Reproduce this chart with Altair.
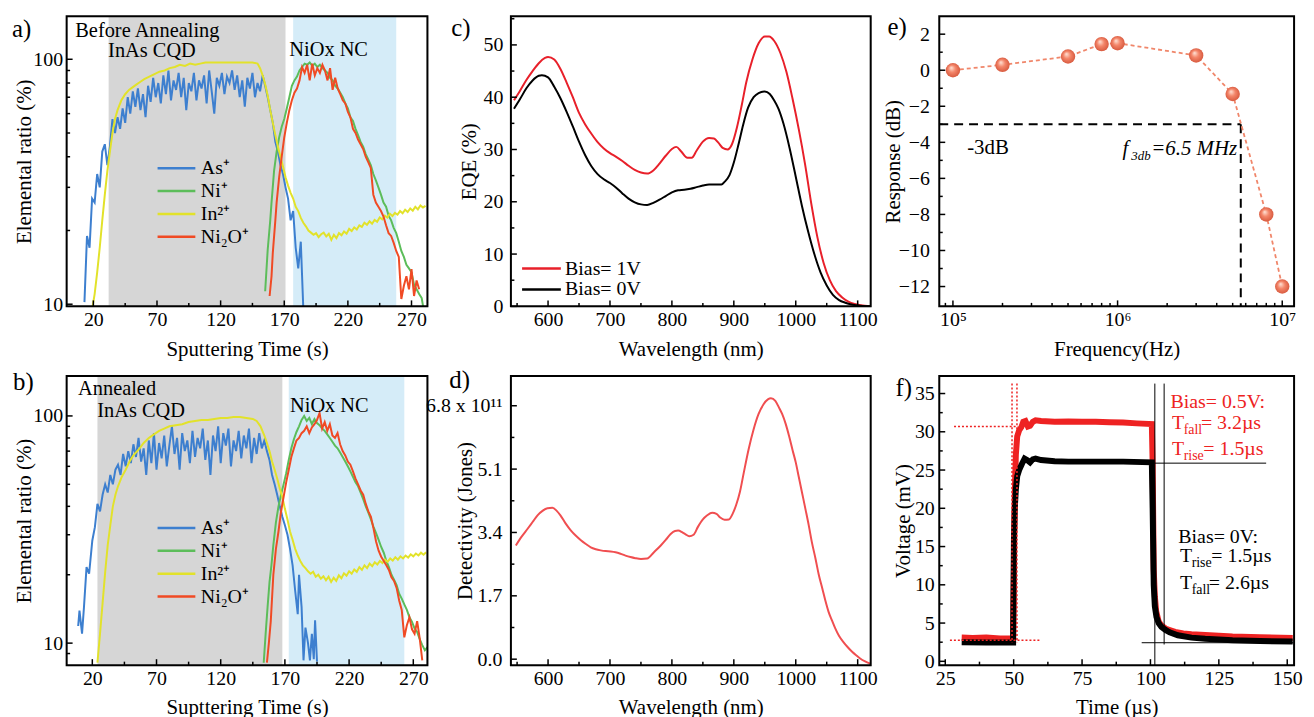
import altair as alt
import pandas as pd

FONT = "Liberation Serif"
FS = 20   # tick labels
FT = 21   # axis titles

# ---------------- (a) before annealing ----------------
A_AS = [(13,10.2),(15,19),(17,17),(19,27),(21,26),(23,34),(25,30),(27,42),(29,45),(31,37),(33,44),(35,57),(37,50),(39,58),(41,52),(43,63),(45,55),(47,70),(49,60),(51,74),(53,64),(55,76),(57,62),(59,72),(61,58),(63,78),(65,67),(67,84),(69,70),(71,80),(73,66),(75,86),(77,72),(79,90),(81,68),(83,82),(85,75),(87,88),(89,70),(91,84),(93,62),(95,80),(97,74),(99,88),(101,68),(103,82),(105,76),(107,86),(109,66),(111,90),(113,74),(115,60),(117,84),(119,78),(121,88),(123,72),(125,85),(127,80),(129,90),(131,75),(133,86),(135,70),(137,82),(139,64),(141,84),(143,76),(145,88),(147,70),(149,80),(151,74),(153,86),(155,78),(157,70),(159,62),(161,55),(163,46),(165,42),(167,37),(169,34),(171,30),(173,27),(175,22),(177,24),(179,17),(181,14),(183,18),(185,9.5)]
A_IN = [(19,9.5),(21,11),(23,13.5),(25,17),(27,22),(29,28),(31,35),(33,42),(35,50),(37,57),(39,62),(42,68),(45,72),(48,75),(51,77),(54,79),(57,81),(60,83),(64,85),(68,87),(72,89),(76,90),(80,92),(84,93),(88,95),(92,94),(96,96),(100,95),(104,96),(108,97),(112,97),(116,97),(120,97),(125,97),(130,97),(135,97),(140,97),(145,97),(149,96),(151,92),(153,86),(155,79),(157,71),(159,62),(161,55),(163,49),(165,44),(167,40),(169,36.5),(171,33),(173,30.5),(175,28.5),(177,27),(179,25),(181,24),(183,22.5),(185,21.5),(187,20.8),(189,20),(191,19.6),(193,19.2),(195,19.5),(197,18.8),(199,19.3),(201,19.6),(203,18.9),(205,19.4),(207,18.3),(209,19.2),(211,18.6),(213,19.5),(215,19.1),(217,19.8),(219,19.4),(221,20.3),(223,19.9),(225,20.6),(227,20.2),(229,21),(231,20.7),(233,21.5),(235,21.1),(237,21.8),(239,21.3),(241,22.1),(243,21.7),(245,22.6),(247,22.2),(249,23),(251,22.6),(253,23.4),(255,22.9),(257,23.6),(259,23.2),(261,24),(263,23.5),(265,24.3),(267,23.8),(269,24.6),(271,24.1),(273,25),(275,24.4),(277,25.3),(279,24.8),(281,25.2)]
A_NI = [(155,11.3),(157,16.7),(159,22),(160,26),(162,35),(164,42),(166,48),(168,53),(170,57),(172,63),(174,70),(176,78),(178,82),(180,85),(182,90),(184,93),(186,96),(188,95),(190,97),(192,94),(194,96),(196,93),(198,95),(200,92),(202,90),(204,88),(206,84),(208,82),(210,78),(212,76),(214,73),(216,70),(218,66),(220,63),(222,58),(224,56),(226,52),(228,49),(230,46),(232,44),(234,41),(236,39),(238,37),(240,34),(242,32),(244,30),(246,28),(248,26),(250,25),(252,23),(254,22),(256,20.5),(258,19.5),(260,18),(262,16.5),(264,15.6),(266,14.5),(268,14),(270,13.5),(272,12),(274,11.5),(276,11),(278,10.6),(280,9.2),(282,9.5)]
A_NIO = [(158.5,10.8),(160,13),(161,16.2),(163,22),(164,26),(166,33),(168,40),(170,48),(172,55),(174,62),(176,68),(178,73),(180,76),(182,82),(184,93),(186,88),(188,95),(190,82),(192,96),(194,86),(196,92),(198,88),(200,95),(202,90),(204,82),(206,92),(208,75),(210,84),(212,76),(214,72),(216,68),(218,66),(220,61),(222,58),(224,52),(226,50),(228,47),(230,45),(232,43),(234,40),(236,38),(238,36),(240,28),(242,26),(244,25),(246,24),(248,22.8),(250,21),(252,19.5),(254,19),(256,17.8),(258,16.5),(260,15.6),(262,10.5),(264,11.9),(266,13),(268,11.5),(270,13.9),(272,10.8),(274,12.5),(276,11.5)]
A_GREY = (32, 171)
A_BLUE = (177, 258)
A_NOTES = [(5.8, 131, "Before Annealing"), (31.6, 108, "InAs CQD"), (174, 109, "NiOx NC")]

# ---------------- (b) annealed ----------------
B_AS = [(9,11.9),(10,13.9),(12,11),(13.5,14.4),(15.5,21.6),(17.5,20.2),(20,28.3),(22,32.4),(24,41),(26,38),(28,45),(30,50),(32,46),(34,55),(36,50),(38,58),(40,61),(42,55),(44,68),(46,60),(48,70),(50,62),(52,75),(54,66),(56,80),(58,63),(60,72),(62,55),(64,78),(66,62),(68,84),(70,58),(72,76),(74,65),(76,82),(78,60),(80,74),(82,90),(84,68),(86,80),(88,58),(90,84),(92,70),(94,78),(96,62),(98,86),(100,66),(102,80),(104,72),(106,88),(108,64),(110,78),(112,55),(114,82),(116,70),(118,90),(120,62),(122,84),(124,74),(126,88),(128,60),(130,78),(132,70),(134,86),(136,65),(138,82),(140,72),(142,88),(144,62),(146,80),(148,68),(150,84),(152,72),(154,78),(156,70),(158,64),(160,55),(162,50),(164,45),(166,40),(168,36),(170,33),(172,30),(174,26),(176,22),(178,17),(180,13.4),(181,20),(183,14.4),(184.5,8.4),(186,11.7),(188,10),(189.5,8.4),(191,11),(192.5,8.5),(193.5,12.6),(195,8.3)]
B_IN = [(24,8.2),(26,11),(28,15),(30,20.5),(32,27),(34,33),(36,40),(38,45),(40,49),(43,54),(46,58),(49,63),(52,67),(56,71),(60,76),(64,80),(68,83),(72,86),(76,88),(80,90),(85,91),(90,92),(95,94),(100,95),(105,96),(110,96),(115,97),(120,98),(125,98),(130,99),(135,99),(140,98),(145,97),(148,95),(151,90),(154,82),(156,76),(158,70),(160,63),(162,58),(164,53),(166,48),(168,44),(170,39),(172,35),(174,31),(176,28.5),(178,26),(180,24.3),(182,23),(184,22),(186,21.4),(188,20.7),(190,20.2),(192,20.6),(194,19.6),(196,20),(198,19.2),(200,19.7),(202,18.9),(204,19.6),(206,18.6),(208,19.4),(210,18.8),(212,19.9),(214,19.3),(216,20.3),(218,19.8),(220,20.7),(222,20.2),(224,21.1),(226,20.6),(228,21.6),(230,21),(232,22),(234,21.4),(236,22.4),(238,21.8),(240,22.7),(242,22.2),(244,23),(246,22.5),(248,23.3),(250,22.8),(252,23.6),(254,23.1),(256,23.9),(258,23.3),(260,24.1),(262,23.6),(264,24.3),(266,23.8),(268,24.6),(270,24.1),(272,24.8),(274,24.3),(276,25),(278,24.5),(280,25.1)]
B_NI = [(153.5,8.2),(155,11),(156.5,14.4),(158,18.5),(159.5,22),(161,27),(163,34),(165,40),(167,45),(169,50),(171,56),(173,64),(175,72),(177,79),(179,85),(181,90),(183,96),(185,100),(187,95),(189,98),(191,92),(193,97),(195,93),(197,91),(199,88),(201,86),(203,83),(205,80),(207,77),(209,74),(211,72),(213,69),(215,66),(217,63),(219,60),(221,57),(223,54),(225,51),(227,49),(229,46),(231,43),(233,40),(235,37.5),(237,35),(239,32.5),(241,30.5),(243,28.5),(245,26.5),(247,25),(249,23),(251,21.6),(253,20),(255,19),(257,18),(259,16.5),(261,15.7),(263,14.8),(265,14),(267,13),(269,12.4),(271,11.6),(273,11.2),(275,10.4),(277,9.8),(279,9.3),(281,9.6)]
B_NIO = [(156,8.2),(157.5,10),(159,12.5),(161,20),(163,26),(165,31),(167,38),(169,44),(171,51),(173,58),(175,66),(177,72),(179,78),(181,80),(183,84),(185,86),(187,90),(189,84),(191,89),(193,92),(195,96),(197,103),(199,88),(201,94),(203,86),(205,92),(207,82),(209,80),(211,84),(213,75),(215,70),(217,67),(219,63),(221,61),(223,57),(225,53),(227,50),(229,47),(231,45),(233,41),(235,38),(237,36),(239,32),(241,28),(243,25.5),(245,24),(247,23),(249,22),(251,21),(253,19.5),(255,18.8),(257,17.5),(259,15.4),(261,14),(263,10.6),(265,12),(267,13),(269,11.5),(271,11),(273,12.5),(275,10.5),(277,8.4)]
B_GREY = (24, 168)
B_BLUE = (173, 263)
B_NOTES = [(8.9, 131, "Annealed"), (23.9, 105, "InAs CQD"), (174, 111, "NiOx NC")]

ION_NAMES = ["As⁺", "Ni⁺", "In²⁺", "Ni₂O⁺"]
ION_COLORS = ["#3d7fcf", "#5cbd5a", "#e2e22a", "#f04a24"]

# ---------------- (c) EQE ----------------
C_WL1 = [545,555,565,575,585,595,600,610,620,630,640,650,660,670,680,690,700,710,720,730,740,750,760,770,780,790,800,807,815,825,832,840,850,860,868,875,882,890,897,905,913,920,930,940,950,957,965,975,985,995,1005,1015,1025,1035,1045,1055,1065,1075,1085,1095,1105,1120]
C_EQE1 = [39.4,41.3,43.3,45,46.5,47.5,47.7,47.2,45.4,42.8,40,37,34.8,33,31.4,30.2,29.3,28.6,27.8,26.9,26.1,25.6,25.4,26,27.3,28.8,30.1,30.5,29.6,28.4,28.4,29.8,31.5,32.2,32.1,31.3,30.3,30,31,34.2,38.6,42.8,47.2,50.3,51.6,51.6,50.8,48.5,44.8,39.6,33.8,27.2,19.7,13.2,8.3,5.0,2.9,1.7,0.9,0.45,0.2,0.0]
C_WL0 = [545,555,565,575,585,590,600,610,620,630,640,650,660,670,680,690,700,710,720,730,740,750,760,770,780,790,800,810,820,830,840,850,860,870,880,885,893,900,908,915,923,932,940,950,958,965,972,980,990,1000,1010,1020,1030,1040,1050,1060,1070,1080,1090,1100,1120]
C_EQE0 = [37.8,39.7,41.7,43.2,44.1,44.2,43.8,42,39.8,37.2,34.4,31.5,28.9,26.8,25.3,24.3,23.6,22.7,21.6,20.6,19.9,19.5,19.4,19.8,20.4,21.1,21.8,22.2,22.3,22.5,22.8,23.1,23.3,23.3,23.3,23.8,25.1,27.5,31.2,34.7,38,40,40.8,41.1,40.6,39.4,37.8,35,30.3,24.8,19.2,14.3,10,6.5,4,2.2,1.2,0.7,0.35,0.15,0.0]
C_SERIES = ["Bias= 1V", "Bias= 0V"]

# ---------------- (d) detectivity ----------------
D_WL = [548,557,567,575,583,591,599,607,614,620,628,637,645,653,661,669,677,685,693,701,709,717,725,733,741,750,760,771,782,790,798,805,810,817,822,828,835,842,850,857,865,872,878,885,892,898,904,910,916,924,932,940,948,955,960,967,973,978,984,989,995,1000,1005,1010,1016,1021,1026,1032,1037,1043,1048,1053,1059,1064,1070,1077,1084,1091,1098,1104,1112,1120]
D_DET = [3.05,3.28,3.5,3.68,3.86,3.98,4.05,4.06,3.98,3.86,3.65,3.45,3.31,3.19,3.09,3.0,2.95,2.92,2.9,2.89,2.87,2.83,2.78,2.74,2.71,2.69,2.7,2.87,3.05,3.2,3.36,3.44,3.45,3.4,3.35,3.3,3.34,3.55,3.75,3.86,3.93,3.9,3.8,3.74,3.75,3.9,4.15,4.5,5.0,5.64,6.17,6.58,6.84,6.97,7.0,6.93,6.75,6.58,6.3,6.0,5.6,5.28,4.88,4.48,4.0,3.59,3.14,2.69,2.28,1.89,1.56,1.27,1.02,0.82,0.62,0.46,0.32,0.2,0.1,0.02,-0.06,-0.12]

# ---------------- (e) frequency response ----------------
E_FREQ = [1e5, 2e5, 5e5, 8e5, 1e6, 3e6, 5e6, 8e6, 1e7]
E_RESP = [0.0, 0.3, 0.76, 1.45, 1.5, 0.82, -1.32, -8.0, -12.0]
E_F3DB_AXIS = 5.6e6
E_XDOM = [82600, 1.18e7]
E_YDOM = [-13.1, 3.0]

# ---------------- (f) transient response ----------------
F_RED = [(31,3.1),(35,3.05),(40,3.1),(45,3.0),(49.8,3.0),(50.1,12),(50.4,22),(50.8,27),(51.3,29.4),(52,30.2),(52.8,30.6),(53.5,31.3),(54.3,31.4),(55.2,30.7),(56,30.8),(57,31.3),(58,31.5),(60,31.4),(65,31.3),(70,31.35),(75,31.3),(80,31.3),(85,31.25),(90,31.2),(95,31.1),(100.5,31.0),(100.8,26),(101.2,12),(101.6,8.5),(102.1,6.5),(103,5.2),(104,4.7),(105.5,4.3),(107,4.1),(109,3.85),(112,3.65),(115,3.55),(120,3.45),(125,3.35),(130,3.25),(140,3.15),(152,3.05)]
F_BLACK = [(31,2.5),(40,2.45),(49.8,2.45),(50.1,16),(50.4,20),(50.8,22.5),(51.3,24.2),(52,25),(53,25.8),(54,26.5),(55,26.3),(56,26.0),(57,26.4),(58,26.5),(60,26.3),(65,26.15),(70,26.1),(80,26.1),(90,26.1),(100.5,26.0),(100.8,20),(101.2,10),(101.6,7.2),(102.2,5.8),(103,5.0),(104,4.5),(105.5,4.1),(107,3.8),(110,3.4),(115,3.1),(120,2.95),(130,2.75),(140,2.65),(152,2.6)]
F_RED_GUIDES = [(28.2,51.6,30.7,30.7),(26.7,60,2.75,2.75),(49.4,49.4,36.3,2.5),(51.2,51.2,36.3,2.5)]
F_BLACK_GUIDES = [(101.6,101.6,36.3,-0.5),(105,105,36.3,2.2),(101.6,142.3,25.9,25.9),(96.8,152.2,2.43,2.43)]


def axis(title, values, lpad, extent, tpad, fmt=None, expr=None):
    kw = dict(title=title, values=values, labelFont=FONT, labelFontSize=FS, labelColor="black",
              titleFont=FONT, titleFontSize=FT, titleFontWeight="normal", titleColor="black",
              ticks=False, domain=False, grid=False, labelPadding=lpad, titlePadding=tpad,
              minExtent=extent, maxExtent=extent, labelFlush=False, labelOverlap=False)
    if fmt:
        kw["format"] = fmt
    if expr:
        kw["labelExpr"] = expr
    return alt.Axis(**kw)


def xaxis(title, values, fmt=None, expr=None):
    return axis(title, values, 3, 24, 8, fmt=fmt, expr=expr)


def frame(xs, ys, xmaj, xmin, ymaj, ymin, W, H):
    out = []
    for vals, L in ((xmaj, 6), (xmin, 3.5)):
        out.append(alt.Chart(pd.DataFrame({"x": vals})).mark_rule(color="black", strokeWidth=1.5)
                   .encode(x=alt.X("x:Q", scale=xs), y=alt.value(H), y2=alt.value(H - L)))
    for vals, L in ((ymaj, 6), (ymin, 3.5)):
        out.append(alt.Chart(pd.DataFrame({"y": vals})).mark_rule(color="black", strokeWidth=1.5)
                   .encode(y=alt.Y("y:Q", scale=ys), x=alt.value(0), x2=alt.value(L)))
    out.append(alt.Chart(pd.DataFrame({"v": [0]})).mark_rect(fill="white", fillOpacity=0, stroke="black", strokeWidth=2)
               .encode(x=alt.value(0), x2=alt.value(W), y=alt.value(0), y2=alt.value(H)))
    return out


def plabel(txt, x, y):
    return (alt.Chart(pd.DataFrame({"t": [txt]}))
            .mark_text(font=FONT, fontSize=25, align="left", baseline="middle", color="black")
            .encode(text="t:N", x=alt.value(x), y=alt.value(y)))


def rich(x, y, parts, xs, ys, color="black", italic=False):
    """parts: list of (text, dx, dy, size)"""
    d = pd.DataFrame({"x": [x], "y": [y]})
    out = []
    for txt, dx, dy, size in parts:
        out.append(alt.Chart(d).mark_text(text=txt, font=FONT, fontSize=size, align="left", baseline="middle",
                                          color=color, dx=dx, dy=dy, fontStyle="italic" if italic else "normal")
                   .encode(x=alt.X("x:Q", scale=xs), y=alt.Y("y:Q", scale=ys)))
    return out


def ion_panel(series, grey, blue, notes, xdom, ydom, ymin_ticks, xtitle, W, H, lab):
    xs = alt.Scale(domain=xdom, nice=False, zero=False)
    ys = alt.Scale(type="log", domain=ydom, nice=False)
    xax = xaxis(xtitle, [20, 70, 120, 170, 220, 270], fmt="d")
    yax = axis("Elemental ratio (%)", [10, 100], 4, 30, 2, fmt="d")
    cs = alt.Scale(domain=ION_NAMES, range=ION_COLORS)
    leg = alt.Legend(orient="none", legendX=99.5, legendY=142, symbolType="M-2,0H2", symbolSize=361,
                     symbolStrokeWidth=2.5, labelFont=FONT, labelFontSize=20, labelColor="black",
                     labelOffset=13.5, rowPadding=2, padding=0, title=None)
    layers = []
    for (x0, x1), col in ((grey, "#d6d6d6"), (blue, "#d5ecf8")):
        layers.append(alt.Chart(pd.DataFrame({"x": [x0], "x2": [x1]})).mark_rect(color=col)
                      .encode(x=alt.X("x:Q", scale=xs, axis=xax), x2="x2:Q", y=alt.value(0), y2=alt.value(H)))
    for name, pts in zip(ION_NAMES, series):
        d = pd.DataFrame(pts, columns=["x", "y"])
        d["s"] = name
        layers.append(alt.Chart(d).mark_line(strokeWidth=2, clip=True).encode(
            x=alt.X("x:Q", scale=xs), y=alt.Y("y:Q", scale=ys, axis=yax),
            color=alt.Color("s:N", scale=cs, legend=leg)))
    nd = pd.DataFrame(notes, columns=["x", "y", "t"])
    layers.append(alt.Chart(nd).mark_text(font=FONT, fontSize=20.5, align="left", baseline="middle", color="black")
                  .encode(x=alt.X("x:Q", scale=xs), y=alt.Y("y:Q", scale=ys), text="t:N"))
    layers += frame(xs, ys, [20, 70, 120, 170, 220, 270], [45, 95, 145, 195, 245], [10, 100], ymin_ticks, W, H)
    layers.append(plabel(*lab))
    return alt.layer(*layers).properties(width=W, height=H)


# panel geometry: total drawing width kept below the 1298 px page content width
W1, W2, W3 = 363, 362, 357
H1, H2 = 292, 291
GAP1, GAP2, ROWGAP = 84, 69, 70

pa = ion_panel([A_AS, A_NI, A_IN, A_NIO], A_GREY, A_BLUE, A_NOTES, [-1, 282.5], [9.8, 150],
               [20, 30, 40, 50, 60, 70, 80, 90], "Sputtering Time (s)", W1, H1, ("a)", -55, 13))
pb = ion_panel([B_AS, B_NI, B_IN, B_NIO], B_GREY, B_BLUE, B_NOTES, [0, 281], [8, 150],
               [9, 20, 30, 40, 50, 60, 70, 80, 90], "Supttering Time (s)", W1, H2, ("b)", -54, 6))

# ----- panel c -----
xs_c = alt.Scale(domain=[540, 1121], nice=False, zero=False)
ys_c = alt.Scale(domain=[0, 55.5], nice=False, zero=False)
dc = pd.concat([pd.DataFrame({"x": C_WL1, "y": C_EQE1, "s": C_SERIES[0]}),
                pd.DataFrame({"x": C_WL0, "y": C_EQE0, "s": C_SERIES[1]})])
leg_c = alt.Legend(orient="none", legendX=19.75, legendY=243, symbolType="M-2,0H2", symbolSize=380,
                   symbolStrokeWidth=2.5, labelFont=FONT, labelFontSize=20, labelColor="black",
                   labelOffset=12.75, rowPadding=0, padding=0, title=None)
pc_layers = [alt.Chart(dc).mark_line(strokeWidth=2, interpolate="monotone", clip=True).encode(
    x=alt.X("x:Q", scale=xs_c, axis=xaxis("Wavelength (nm)", [600, 700, 800, 900, 1000, 1100], fmt="d")),
    y=alt.Y("y:Q", scale=ys_c, axis=axis("EQE (%)", [0, 10, 20, 30, 40, 50], 8, 28, 4, fmt="d")),
    color=alt.Color("s:N", scale=alt.Scale(domain=C_SERIES, range=["#e8202a", "#000000"]), legend=leg_c),
    detail="s:N")]
pc_layers += frame(xs_c, ys_c, [600, 700, 800, 900, 1000, 1100], [550, 650, 750, 850, 950, 1050],
                   [0, 10, 20, 30, 40, 50], [5, 15, 25, 35, 45, 55], W2, H1)
pc_layers.append(plabel("c)", -60, 12))
pc = alt.layer(*pc_layers).properties(width=W2, height=H1)

# ----- panel d -----
xs_d = alt.Scale(domain=[540, 1121], nice=False, zero=False)
ys_d = alt.Scale(domain=[-0.16, 7.6], nice=False, zero=False)
dd = pd.DataFrame({"x": D_WL, "y": D_DET})
pd_layers = [alt.Chart(dd).mark_line(strokeWidth=2, color="#f04e50", interpolate="monotone", clip=True).encode(
    x=alt.X("x:Q", scale=xs_d, axis=xaxis("Wavelength (nm)", [600, 700, 800, 900, 1000, 1100], fmt="d")),
    y=alt.Y("y:Q", scale=ys_d, axis=axis("Detectivity (Jones)", [0, 1.7, 3.4, 5.1, 6.8], 9, 32, 4,
                                         expr="datum.value > 6 ? '6.8 x 10¹¹' : format(datum.value, '.1f')")))]
pd_layers += frame(xs_d, ys_d, [600, 700, 800, 900, 1000, 1100], [550, 650, 750, 850, 950, 1050],
                   [0, 1.7, 3.4, 5.1, 6.8], [0.85, 2.55, 4.25, 5.95], W2, H2)
pd_layers.append(plabel("d)", -62, 4))
pdp = alt.layer(*pd_layers).properties(width=W2, height=H2)

# ----- panel e -----
xs_e = alt.Scale(type="log", domain=E_XDOM, nice=False)
ys_e = alt.Scale(domain=E_YDOM, nice=False, zero=False)
de = pd.DataFrame({"x": E_FREQ, "y": E_RESP})
guide_e = pd.DataFrame({"x": [E_XDOM[0], E_F3DB_AXIS], "x2": [E_F3DB_AXIS, E_F3DB_AXIS],
                        "y": [-3, -3], "y2": [-3, E_YDOM[0]]})
sphere = alt.RadialGradient(gradient="radial",
                            stops=[alt.GradientStop(offset=0, color="#ffe6da"),
                                   alt.GradientStop(offset=0.45, color="#f4866a"),
                                   alt.GradientStop(offset=1, color="#d4553a")],
                            x1=0.38, y1=0.32, r1=0, x2=0.5, y2=0.5, r2=0.55)
pe_layers = [
    alt.Chart(guide_e).mark_rule(color="black", strokeWidth=2, strokeDash=[9, 6]).encode(
        x=alt.X("x:Q", scale=xs_e, axis=xaxis("Frequency(Hz)", [1e5, 1e6, 1e7],
                                             expr="datum.value < 5e5 ? '10⁵' : datum.value < 5e6 ? '10⁶' : '10⁷'")),
        x2="x2:Q",
        y=alt.Y("y:Q", scale=ys_e, axis=axis("Response (dB)", [-12, -10, -8, -6, -4, -2, 0, 2], 10, 36, 0, fmt="d")),
        y2="y2:Q"),
    alt.Chart(de).mark_line(color="#f0866a", strokeWidth=1.8, strokeDash=[4, 3]).encode(
        x=alt.X("x:Q", scale=xs_e), y=alt.Y("y:Q", scale=ys_e)),
    alt.Chart(de).mark_circle(size=210, fill=sphere, opacity=1).encode(
        x=alt.X("x:Q", scale=xs_e), y=alt.Y("y:Q", scale=ys_e)),
    alt.Chart(pd.DataFrame({"x": [1.22e5], "y": [-4.3], "t": ["-3dB"]})).mark_text(
        font=FONT, fontSize=21, align="left", baseline="middle", color="black").encode(
        x=alt.X("x:Q", scale=xs_e), y=alt.Y("y:Q", scale=ys_e), text="t:N"),
]
pe_layers += rich(1.07e6, -4.4, [("f", 0, 0, 21), ("3db", 9, 7, 13), ("=6.5 MHz", 29, 0, 21)], xs_e, ys_e, italic=True)
pe_layers += frame(xs_e, ys_e, [1e5, 1e6, 1e7], [9e4, 2e5, 3e5, 4e5, 5e5, 6e5, 7e5, 8e5, 9e5,
                                                   2e6, 3e6, 4e6, 5e6, 6e6, 7e6, 8e6, 9e6],
                   [-12, -10, -8, -6, -4, -2, 0, 2], [-11, -9, -7, -5, -3, -1, 1], W3, H1)
pe_layers.append(plabel("e)", -52, 11))
pe = alt.layer(*pe_layers).properties(width=W3, height=H1)

# ----- panel f -----
xs_f = alt.Scale(domain=[22.8, 152.5], nice=False, zero=False)
ys_f = alt.Scale(domain=[-0.5, 37.3], nice=False, zero=False)
RED = "#ee2222"
pf_layers = [
    alt.Chart(pd.DataFrame(F_RED, columns=["x", "y"])).mark_line(color=RED, strokeWidth=6).encode(
        x=alt.X("x:Q", scale=xs_f, axis=xaxis("Time (µs)", [25, 50, 75, 100, 125, 150], fmt="d")),
        y=alt.Y("y:Q", scale=ys_f, axis=axis("Voltage (mV)", [0, 5, 10, 15, 20, 25, 30, 35], 5, 26, 0, fmt="d"))),
    alt.Chart(pd.DataFrame(F_BLACK, columns=["x", "y"])).mark_line(color="black", strokeWidth=6).encode(
        x=alt.X("x:Q", scale=xs_f), y=alt.Y("y:Q", scale=ys_f)),
    alt.Chart(pd.DataFrame(F_RED_GUIDES, columns=["x", "x2", "y", "y2"])).mark_rule(
        color=RED, strokeWidth=1.5, strokeDash=[2, 2]).encode(
        x=alt.X("x:Q", scale=xs_f), x2="x2:Q", y=alt.Y("y:Q", scale=ys_f), y2="y2:Q"),
    alt.Chart(pd.DataFrame(F_BLACK_GUIDES, columns=["x", "x2", "y", "y2"])).mark_rule(
        color="black", strokeWidth=1).encode(
        x=alt.X("x:Q", scale=xs_f), x2="x2:Q", y=alt.Y("y:Q", scale=ys_f), y2="y2:Q"),
]
pf_layers += rich(107.3, 33.9, [("Bias= 0.5V:", 0, 0, 20)], xs_f, ys_f, color=RED)
pf_layers += rich(107.9, 31.1, [("T", 0, 0, 20), ("fall", 11.7, 7, 14), ("= 3.2µs", 29, 0, 20)], xs_f, ys_f, color=RED)
pf_layers += rich(107.9, 27.7, [("T", 0, 0, 20), ("rise", 11.7, 7, 14), ("= 1.5µs", 31.5, 0, 20)], xs_f, ys_f, color=RED)
pf_layers += rich(110.2, 16.3, [("Bias= 0V:", 0, 0, 20)], xs_f, ys_f)
pf_layers += rich(110.8, 13.7, [("T", 0, 0, 20), ("rise", 11.7, 7, 14), ("= 1.5µs", 31.5, 0, 20)], xs_f, ys_f)
pf_layers += rich(110.8, 10.25, [("T", 0, 0, 20), ("fall", 11.7, 7, 14), ("= 2.6µs", 29, 0, 20)], xs_f, ys_f)
pf_layers += frame(xs_f, ys_f, [25, 50, 75, 100, 125, 150], [37.5, 62.5, 87.5, 112.5, 137.5],
                   [0, 5, 10, 15, 20, 25, 30, 35], [2.5, 7.5, 12.5, 17.5, 22.5, 27.5, 32.5], W3, H2)
pf_layers.append(plabel("f)", -44, 12))
pf = alt.layer(*pf_layers).properties(width=W3, height=H2)


def spacer(w, h):
    return alt.Chart(pd.DataFrame({"v": [0]})).mark_point(opacity=0).properties(width=w, height=h)


chart = alt.concat(
    pa, spacer(GAP1, H1), pc, spacer(GAP2, H1), pe,
    pb, spacer(GAP1, H2), pdp, spacer(GAP2, H2), pf,
    columns=5, spacing={"row": ROWGAP, "column": 0}, bounds="flush", align="each",
).resolve_scale(color="independent").properties(
    padding={"left": 3, "top": 4, "right": 0, "bottom": 0}
).configure_view(strokeWidth=0).configure(font=FONT)

chart.save("out.html", embed_options={"renderer": "svg", "actions": False})
